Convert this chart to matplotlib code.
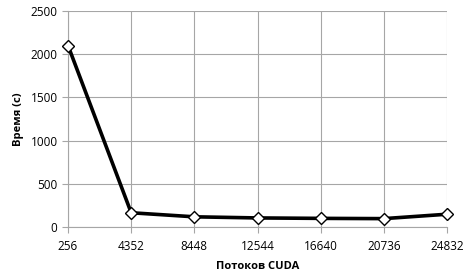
import matplotlib
matplotlib.use("Agg")
import matplotlib.pyplot as plt

threads = [256, 4352, 8448, 12544, 16640, 20736, 24832]
times = [2100, 165, 118, 105, 100, 97, 148]

plt.rcParams['font.family'] = ['Open Sans', 'DejaVu Sans']

fig = plt.figure(figsize=(4.64, 2.72), dpi=100)
ax = fig.add_axes([0.1466, 0.1654, 0.8168, 0.7942])

ax.plot(threads, times, color='black', lw=2.6, marker='D', ms=6.5,
        mfc='white', mec='black', mew=1.0, zorder=3, clip_on=False)

ax.set_xlim(threads[0], threads[-1])
ax.set_ylim(0, 2500)
ax.set_xticks(threads)
ax.set_xticklabels([str(t) for t in threads])
ax.set_yticks(range(0, 2501, 500))
ax.grid(True, color='#a6a6a6', lw=0.8)
ax.set_axisbelow(True)
for s in ['top', 'right']:
    ax.spines[s].set_visible(False)
for s in ['left', 'bottom']:
    ax.spines[s].set_color('#a6a6a6')
ax.tick_params(axis='both', colors='#a6a6a6', labelcolor='black',
               labelsize=8.5, length=4, width=0.8)
ax.tick_params(axis='x', pad=5)
ax.set_xlabel('Потоков CUDA', fontsize=8, fontweight='bold', labelpad=6)
ax.set_ylabel('Время (с)', fontsize=8, fontweight='bold', labelpad=5)

fig.savefig('out.png', dpi=100)
